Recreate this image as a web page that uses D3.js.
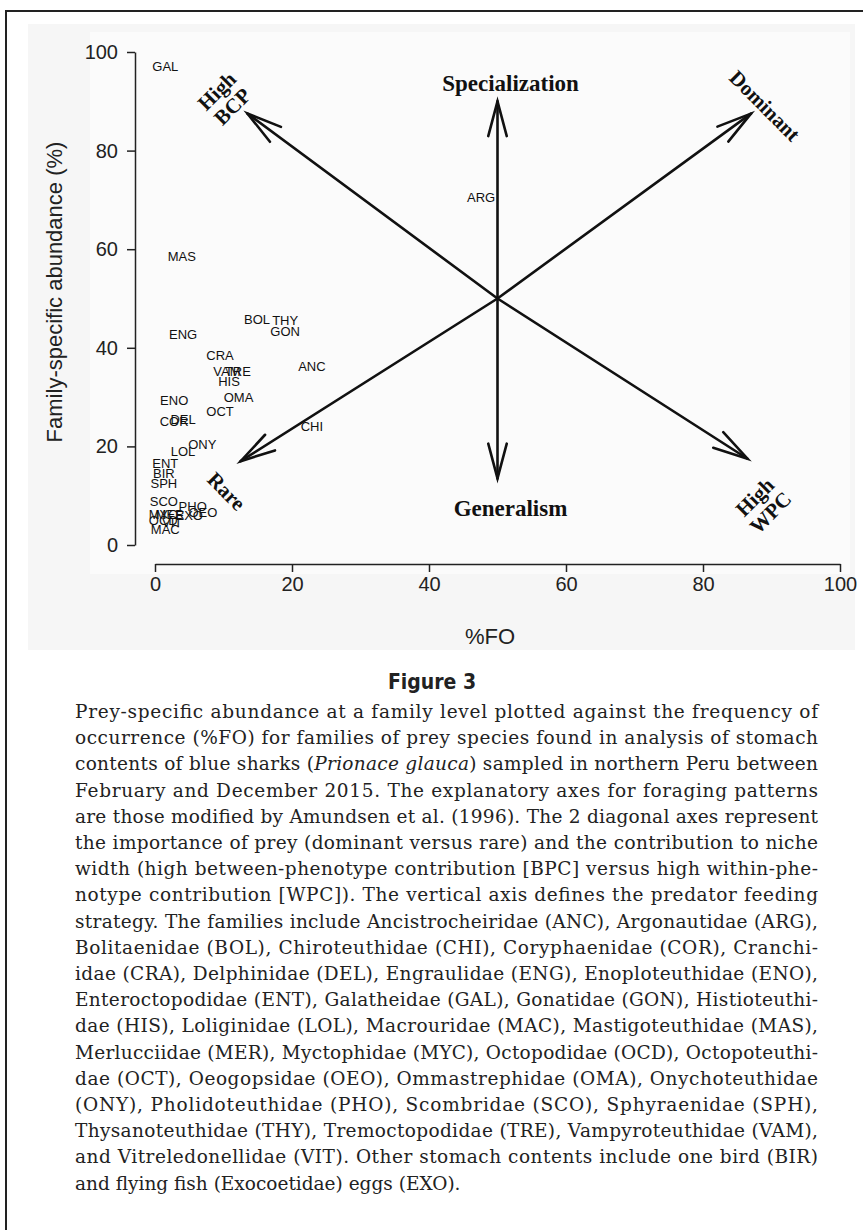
<!DOCTYPE html>
<html>
<head>
<meta charset="utf-8">
<title>Figure 3</title>
<script src="https://d3js.org/d3.v7.min.js"></script>
<style>
  body { margin: 0; padding: 0; background: #fff; }
  svg { display: block; }
  .tick text { font-family: "Liberation Sans", Arial, sans-serif; font-size: 20px; fill: #222; }
  .tick line, .domain { stroke: #222; stroke-width: 1.5; }
</style>
</head>
<body>
<div id="fig"></div>
<script>
// prey families, %FO and family-specific abundance (%)
var families  = ["GAL","ARG","MAS","BOL","THY","GON","ENG","CRA","VAM","TRE","HIS","ANC","ENO","OMA","OCT","COR",
                 "DEL","CHI","ONY","LOL","ENT","BIR","SPH","SCO","PHO","OEO","EXO","MYC","MER","OCD","VIT","MAC"];
var freqOcc   = [1.5, 47.6, 3.9, 14.9, 19.0, 19.0, 4.1, 9.5, 10.5, 12.1, 10.8, 22.9, 2.8, 12.2, 9.5, 2.8,
                 4.1, 22.9, 6.9, 4.1, 1.5, 1.3, 1.3, 1.3, 5.5, 7.0, 5.0, 1.2, 2.2, 1.2, 2.5, 1.5];
var abundance = [97, 70.6, 58.6, 45.8, 45.6, 43.4, 42.8, 38.5, 35.3, 35.3, 33.3, 36.3, 29.4, 30.0, 27.2, 25.0,
                 25.4, 24.0, 20.5, 19.1, 16.6, 14.6, 12.6, 8.9, 7.9, 6.7, 6.1, 6.3, 6.3, 5.1, 4.5, 3.2];

var xTicks = [0, 20, 40, 60, 80, 100];
var yTicks = [0, 20, 40, 60, 80, 100];

// Amundsen axes: all start at the centre (50, 50)
var arrowCentre = [50, 50];
var arrowNames  = ["Specialization", "Dominant", "High BCP", "Generalism", "Rare", "High WPC"];
var arrowTipX   = [50, 87, 13.5, 50, 12.5, 86.5];
var arrowTipY   = [90, 87.5, 87.5, 13.5, 17, 17.5];

var captionLines = [
  "Prey-specific abundance at a family level plotted against the frequency of",
  "occurrence (%FO) for families of prey species found in analysis of stomach",
  "contents of blue sharks (|Prionace glauca|) sampled in northern Peru between",
  "February and December 2015. The explanatory axes for foraging patterns",
  "are those modified by Amundsen et al. (1996). The 2 diagonal axes represent",
  "the importance of prey (dominant versus rare) and the contribution to niche",
  "width (high between-phenotype contribution [BPC] versus high within-phe-",
  "notype contribution [WPC]). The vertical axis defines the predator feeding",
  "strategy. The families include Ancistrocheiridae (ANC), Argonautidae (ARG),",
  "Bolitaenidae (BOL), Chiroteuthidae (CHI), Coryphaenidae (COR), Cranchi-",
  "idae (CRA), Delphinidae (DEL), Engraulidae (ENG), Enoploteuthidae (ENO),",
  "Enteroctopodidae (ENT), Galatheidae (GAL), Gonatidae (GON), Histioteuthi-",
  "dae (HIS), Loliginidae (LOL), Macrouridae (MAC), Mastigoteuthidae (MAS),",
  "Merlucciidae (MER), Myctophidae (MYC), Octopodidae (OCD), Octopoteuthi-",
  "dae (OCT), Oeogopsidae (OEO), Ommastrephidae (OMA), Onychoteuthidae",
  "(ONY), Pholidoteuthidae (PHO), Scombridae (SCO), Sphyraenidae (SPH),",
  "Thysanoteuthidae (THY), Tremoctopodidae (TRE), Vampyroteuthidae (VAM),",
  "and Vitreledonellidae (VIT). Other stomach contents include one bird (BIR)",
  "and flying fish (Exocoetidae) eggs (EXO)."
];

var W = 863, H = 1230;
var svg = d3.select("#fig").append("svg").attr("width", W).attr("height", H);

svg.append("rect").attr("width", W).attr("height", H).attr("fill", "#fff");

// frame (left + top rule)
svg.append("path").attr("d", "M6," + H + "V11H" + W)
  .attr("fill", "none").attr("stroke", "#222").attr("stroke-width", 2);

// scanned figure panel
svg.append("rect").attr("x", 28).attr("y", 24).attr("width", 827).attr("height", 626).attr("fill", "#f6f6f6");
svg.append("rect").attr("x", 90).attr("y", 32).attr("width", 760).attr("height", 542).attr("fill", "#fbfbfb");

var x = d3.scaleLinear().domain([0, 100]).range([155, 840]);
var y = d3.scaleLinear().domain([0, 100]).range([545, 52]);

svg.append("g").attr("transform", "translate(0,564)")
  .call(d3.axisBottom(x).tickValues(xTicks).tickSize(8).tickSizeOuter(0).tickPadding(5));
svg.append("g").attr("transform", "translate(135,0)")
  .call(d3.axisLeft(y).tickValues(yTicks).tickSize(8).tickSizeOuter(0).tickPadding(9));

svg.append("text").attr("x", 490).attr("y", 644).attr("text-anchor", "middle")
  .style("font-family", "Liberation Sans, Arial, sans-serif").style("font-size", "22px").attr("fill", "#222")
  .text("%FO");
svg.append("text").attr("transform", "translate(62,292) rotate(-90)").attr("text-anchor", "middle")
  .style("font-family", "Liberation Sans, Arial, sans-serif").style("font-size", "22px").attr("fill", "#222")
  .text("Family-specific abundance (%)");

// prey labels
svg.append("g").selectAll("text").data(families).join("text")
  .attr("x", function(d, i) { return x(freqOcc[i]); })
  .attr("y", function(d, i) { return y(abundance[i]); })
  .attr("dy", "0.36em").attr("text-anchor", "middle")
  .style("font-family", "Liberation Sans, Arial, sans-serif").style("font-size", "13px").attr("fill", "#111")
  .text(function(d) { return d; });

// arrows
var cx = x(arrowCentre[0]), cy = y(arrowCentre[1]);
var arrows = svg.append("g").attr("fill", "none").attr("stroke", "#111").attr("stroke-width", 2.6)
  .attr("stroke-linecap", "round");
arrowNames.forEach(function(name, i) {
  var tx = x(arrowTipX[i]), ty = y(arrowTipY[i]);
  var ang = Math.atan2(ty - cy, tx - cx), len = 36, spread = 0.26;
  var b1 = [tx - len * Math.cos(ang - spread), ty - len * Math.sin(ang - spread)];
  var b2 = [tx - len * Math.cos(ang + spread), ty - len * Math.sin(ang + spread)];
  arrows.append("path").attr("d", "M" + cx + "," + cy + "L" + tx + "," + ty);
  arrows.append("path").attr("d", "M" + b1 + "L" + tx + "," + ty + "L" + b2);
});

// arrow captions: [dx, dy, rotation] relative to the tip
var arrowText = {
  "Specialization": [13, -18, 0],
  "Dominant": [14, -8, 45],
  "High BCP": [-23, -15, -45],
  "Generalism": [13, 29, 0],
  "Rare": [-14, 30, 45],
  "High WPC": [15, 46, -45]
};
arrowNames.forEach(function(name, i) {
  var o = arrowText[name];
  var g = svg.append("g")
    .attr("transform", "translate(" + (x(arrowTipX[i]) + o[0]) + "," + (y(arrowTipY[i]) + o[1]) + ") rotate(" + o[2] + ")");
  var words = name.indexOf("High") === 0 ? name.split(" ") : [name];
  var fs = o[2] === 0 ? 23 : 21;
  words.forEach(function(w, k) {
    g.append("text").attr("y", (k - (words.length - 1) / 2) * 22).attr("dy", "0.35em")
      .attr("text-anchor", "middle")
      .style("font-family", "Liberation Serif, 'Times New Roman', serif").style("font-weight", "bold")
      .style("font-size", fs + "px").attr("fill", "#111")
      .text(w);
  });
});

// caption
svg.append("text").attr("x", 432).attr("y", 689).attr("text-anchor", "middle")
  .style("font-family", "'Liberation Sans Narrow', 'DejaVu Sans Condensed', 'Liberation Sans', sans-serif")
  .style("font-weight", "bold").style("font-size", "21px").attr("fill", "#222")
  .text("Figure 3");

var cap = svg.append("g")
  .style("font-family", "'DejaVu Serif', 'Liberation Serif', serif").style("font-size", "18.5px").attr("fill", "#222");
captionLines.forEach(function(line, i) {
  var t = cap.append("text").attr("x", 75).attr("y", 718 + i * 26.2);
  var parts = line.split("|");
  parts.forEach(function(p, k) {
    t.append("tspan").style("font-style", k % 2 ? "italic" : "normal").text(p);
  });
  if (i < captionLines.length - 1) {
    t.attr("textLength", 743).attr("lengthAdjust", "spacing");
  }
});
</script>
</body>
</html>
